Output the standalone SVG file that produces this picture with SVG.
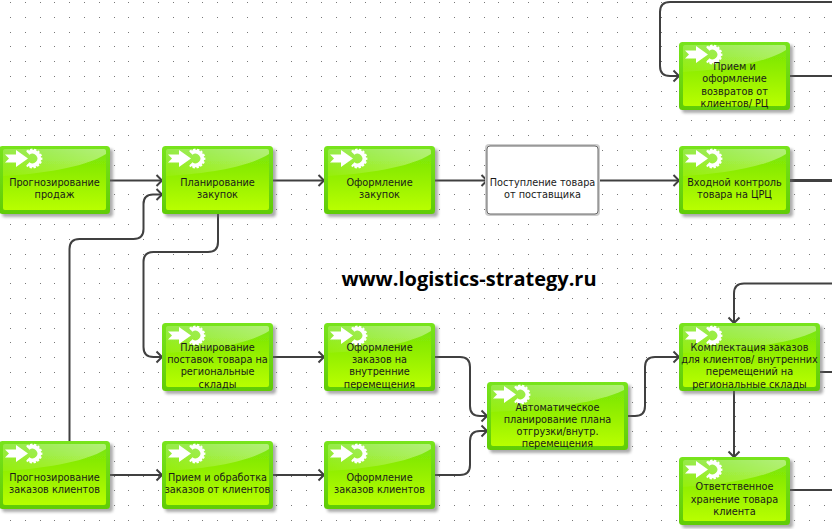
<svg xmlns="http://www.w3.org/2000/svg" width="832" height="529" viewBox="0 0 832 529">
<style>
text{font-family:"DejaVu Sans Condensed","DejaVu Sans","Liberation Sans",sans-serif;font-stretch:condensed;font-size:10.8px;fill:#1a1a1a;text-anchor:middle}
.c{fill:none;stroke:#404040;stroke-width:2}
.t{stroke-width:3.2}
text.title{font-family:"Open Sans","Liberation Sans",sans-serif;font-stretch:normal;font-size:20px;font-weight:700;fill:#000}
</style>
<defs>
<pattern id="dots" width="74" height="74" patternUnits="userSpaceOnUse" x="10" y="2">
<path d="M0 0h1M15 0h1M30 0h1M44 0h1M59 0h1M0 15h1M15 15h1M30 15h1M44 15h1M59 15h1M0 30h1M15 30h1M30 30h1M44 30h1M59 30h1M0 44h1M15 44h1M30 44h1M44 44h1M59 44h1M0 59h1M15 59h1M30 59h1M44 59h1M59 59h1" stroke="#777" stroke-width="1" transform="translate(0 .5)"/>
</pattern>
<linearGradient id="g" x1="0" y1="0" x2="0" y2="1"><stop offset="0" stop-color="#74e40a"/><stop offset=".5" stop-color="#96f002"/><stop offset="1" stop-color="#b8ff00"/></linearGradient>
<linearGradient id="e" x1="0" y1="0" x2="0" y2="1"><stop offset="0" stop-color="#78e41c"/><stop offset="1" stop-color="#60cc06"/></linearGradient>
<linearGradient id="gl" x1="0" y1="1" x2="1" y2="0"><stop offset="0" stop-color="#fff" stop-opacity=".04"/><stop offset="1" stop-color="#fff" stop-opacity=".45"/></linearGradient>
<filter id="s" x="-10%" y="-10%" width="125%" height="130%"><feGaussianBlur stdDeviation="1.5"/></filter>
<filter id="f" x="-5%" y="-5%" width="110%" height="110%"><feGaussianBlur stdDeviation=".7"/></filter>
<marker id="a" markerUnits="userSpaceOnUse" markerWidth="10" markerHeight="14" refX="8.5" refY="7" orient="auto"><path d="M3 1.500L8.500 7L3 12.500" fill="none" stroke="#404040" stroke-width="2"/></marker>
<g id="icon">
<path d="M29.100 7.300A6.800 6.800 0 1 1 29.100 17.700" fill="none" stroke="#fff" stroke-width="4"/>
<path d="M27.800 5.800A8.800 8.800 0 1 1 27.800 19.200" fill="none" stroke="#fff" stroke-width="2.200" stroke-dasharray="2.300 1.500"/>
<path d="M6 8.500H17V4L29 12.500L17 21V16.500H6L10 12.500Z" fill="#fff"/>
</g>
<g id="b">
<rect x="3" y="3" width="111" height="68" rx="3" fill="#666" opacity=".55" filter="url(#s)"/>
<rect width="111" height="68" rx="3.500" fill="url(#e)"/>
<rect x="4" y="3" width="103" height="61" rx="2" fill="url(#g)" filter="url(#f)"/>
<path d="M4 30C40 28 85 22 107 8V5a2 2 0 0 0-2-2H6a2 2 0 0 0-2 2Z" fill="url(#gl)"/>
<use href="#icon"/>
</g>
<g id="w">
<rect x="3" y="3" width="141" height="68" rx="3" fill="#666" opacity=".55" filter="url(#s)"/>
<rect width="141" height="68" rx="3.500" fill="url(#e)"/>
<rect x="4" y="3" width="133" height="61" rx="2" fill="url(#g)" filter="url(#f)"/>
<path d="M4 30C50 28 110 22 137 8V5a2 2 0 0 0-2-2H6a2 2 0 0 0-2 2Z" fill="url(#gl)"/>
<use href="#icon"/>
</g>
</defs>
<rect width="832" height="529" fill="#fff"/>
<rect width="832" height="529" fill="url(#dots)"/>
<g id="connectors">
<path class="c" marker-end="url(#a)" d="M110 180.500H162"/>
<path class="c" marker-end="url(#a)" d="M272 180.500H324"/>
<path class="c" marker-end="url(#a)" d="M435 180.500H487"/>
<path class="c" marker-end="url(#a)" d="M598 180.500H679"/>
<path class="c t" d="M790 180.500H832"/>
<path class="c" marker-end="url(#a)" d="M69.500 441V249Q69.500 239 79.500 239H133.500Q143.500 239 143.500 229V204Q143.500 194.500 153 194.500H162"/>
<path class="c" marker-end="url(#a)" d="M218 214V242Q218 252 208 252H153.500Q143.500 252 143.500 262V347Q143.500 357 153.500 357H162"/>
<path class="c" marker-end="url(#a)" d="M832 2H670Q660 2 660 12V66Q660 76 670 76H679"/>
<path class="c" d="M790 76H832"/>
<path class="c" marker-end="url(#a)" d="M272 357H324"/>
<path class="c" marker-end="url(#a)" d="M435 357H460Q470 357 470 367V406Q470 416 480 416H487"/>
<path class="c" marker-end="url(#a)" d="M435 475H460Q470 475 470 465V441Q470 431 480 431H487"/>
<path class="c" marker-end="url(#a)" d="M627 416H635Q645 416 645 406V367Q645 357 655 357H679"/>
<path class="c" marker-end="url(#a)" d="M832 283.500H744Q734 283.500 734 293.500V323"/>
<path class="c" d="M820 372H832"/>
<path class="c" marker-end="url(#a)" d="M734 391V457"/>
<path class="c" d="M790 490H832"/>
<path class="c" marker-end="url(#a)" d="M110 475H162"/>
<path class="c" marker-end="url(#a)" d="M272 475H324"/>
</g>
<g id="n1" transform="translate(-1 146)"><use href="#b"/><text x="55.500" y="40">Прогнозирование</text><text x="55.500" y="52">продаж</text></g>
<g id="n2" transform="translate(162 146)"><use href="#b"/><text x="55.500" y="40">Планирование</text><text x="55.500" y="52">закупок</text></g>
<g id="n3" transform="translate(324 146)"><use href="#b"/><text x="55.500" y="40">Оформление</text><text x="55.500" y="52">закупок</text></g>
<g id="n4" transform="translate(487 146)">
<rect x="-2" y="-2" width="115" height="72" rx="4" fill="#ccc"/>
<rect x="0" y="0" width="111" height="68" rx="3" fill="#fff" stroke="#666" stroke-width="1"/>
<text x="55.500" y="40">Поступление товара</text><text x="55.500" y="52">от поставщика</text></g>
<g id="n5" transform="translate(679 146)"><use href="#b"/><text x="55.500" y="40">Входной контроль</text><text x="55.500" y="52">товара на ЦРЦ</text></g>
<g id="n6" transform="translate(679 42)"><use href="#b"/><text x="55.500" y="28">Прием и</text><text x="55.500" y="40">оформление</text><text x="55.500" y="52.500">возвратов от</text><text x="55.500" y="65">клиентов/ РЦ</text></g>
<g id="n7" transform="translate(162 323)"><use href="#b"/><text x="55.500" y="28">Планирование</text><text x="55.500" y="40">поставок товара на</text><text x="55.500" y="52">региональные</text><text x="55.500" y="64.500">склады</text></g>
<g id="n8" transform="translate(324 323)"><use href="#b"/><text x="55.500" y="28">Оформление</text><text x="55.500" y="40">заказов на</text><text x="55.500" y="52">внутренние</text><text x="55.500" y="64.500">перемещения</text></g>
<g id="n9" transform="translate(487 382)"><use href="#w"/><text x="70.500" y="29">Автоматическое</text><text x="70.500" y="41">планирование плана</text><text x="70.500" y="53">отгрузки/внутр.</text><text x="70.500" y="65">перемещения</text></g>
<g id="n10" transform="translate(679 323)"><use href="#w"/><text x="70.500" y="28">Комплектация заказов</text><text x="70.500" y="40">для клиентов/ внутренних</text><text x="70.500" y="52">перемещений на</text><text x="70.500" y="64.500">региональные склады</text></g>
<g id="n11" transform="translate(679 457)"><use href="#b"/><text x="55.500" y="33">Ответственное</text><text x="55.500" y="45.500">хранение товара</text><text x="55.500" y="58">клиента</text></g>
<g id="n12" transform="translate(-1 441)"><use href="#b"/><text x="55.500" y="40">Прогнозирование</text><text x="55.500" y="52">заказов клиентов</text></g>
<g id="n13" transform="translate(162 441)"><use href="#b"/><text x="55.500" y="40">Прием и обработка</text><text x="55.500" y="52">заказов от клиентов</text></g>
<g id="n14" transform="translate(324 441)"><use href="#b"/><text x="55.500" y="40">Оформление</text><text x="55.500" y="52">заказов клиентов</text></g>
<text class="title" x="469" y="286">www.logistics-strategy.ru</text>
</svg>
